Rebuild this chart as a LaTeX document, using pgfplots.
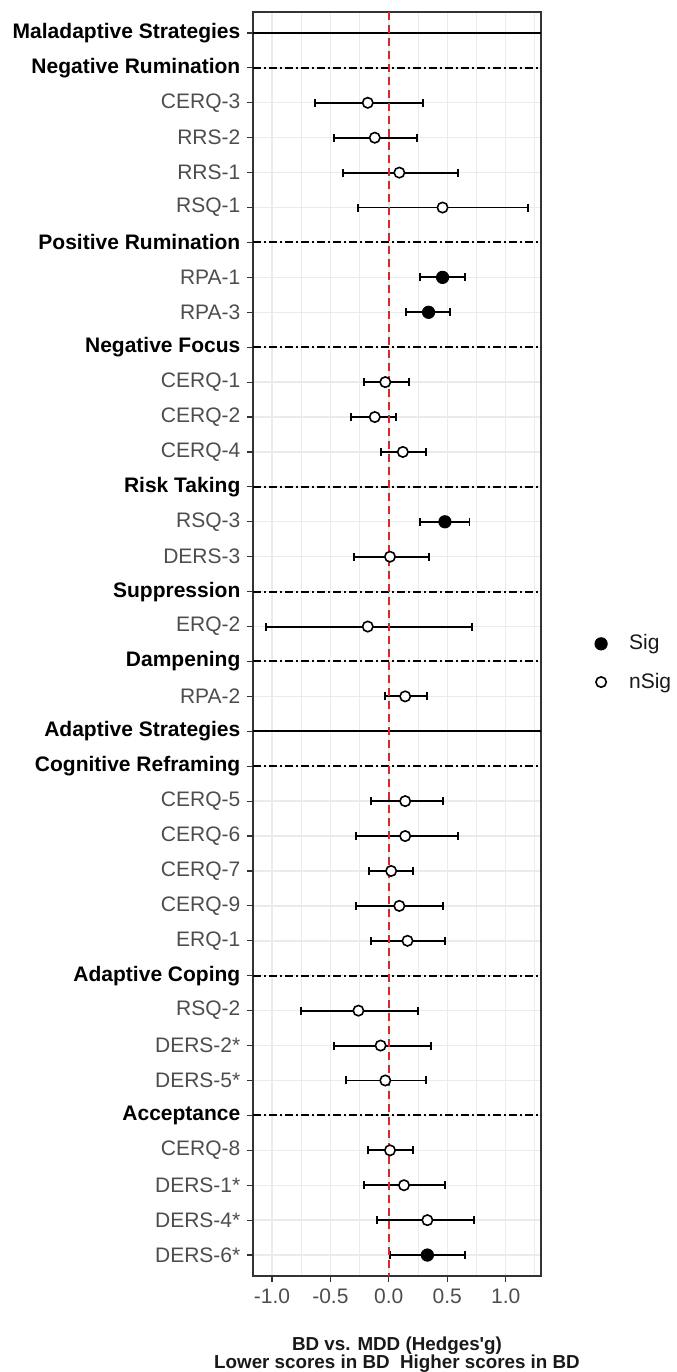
\documentclass[border=0pt]{standalone}
\usepackage{pgfplots}
\pgfplotsset{compat=1.18}
\usepackage{pgfplotstable}
\usepackage{fontspec}
\setmainfont{Liberation Sans}
\definecolor{gray30}{HTML}{4D4D4D}
\definecolor{gray20}{HTML}{333333}
\definecolor{gridc}{HTML}{EBEBEB}
\definecolor{refred}{HTML}{D42A2A}
\newcommand{\hd}[1]{\textcolor{black}{\bfseries #1}}

\pgfplotstableread{
y x lo hi
3 -0.18 -0.63 0.29
4 -0.12 -0.47 0.24
5 0.09 -0.39 0.59
6 0.46 -0.26 1.19
11 -0.03 -0.21 0.17
12 -0.12 -0.32 0.06
13 0.12 -0.07 0.32
16 0.01 -0.30 0.34
18 -0.18 -1.05 0.71
20 0.14 -0.03 0.33
23 0.14 -0.15 0.46
24 0.14 -0.28 0.59
25 0.02 -0.17 0.21
26 0.09 -0.28 0.46
27 0.16 -0.15 0.48
29 -0.26 -0.75 0.25
30 -0.07 -0.47 0.36
31 -0.03 -0.37 0.32
33 0.01 -0.18 0.21
34 0.13 -0.21 0.48
35 0.33 -0.10 0.73
}\nsigtab

\pgfplotstableread{
y x lo hi
8 0.46 0.27 0.65
9 0.34 0.15 0.52
15 0.48 0.27 0.69
36 0.33 0.01 0.65
}\sigtab

\begin{document}
\begin{tikzpicture}
\useasboundingbox (-126.5pt,-48pt) rectangle (211.5pt,638pt);
\begin{axis}[
  at={(0,0)}, anchor=south west,
  scale only axis, width=144pt, height=632pt,
  xmin=-1.162, xmax=1.302, ymin=0.4, ymax=36.6, y dir=reverse,
  xtick={-1,-0.5,0,0.5,1},
  xticklabels={-1.0,-0.5,0.0,0.5,1.0},
  minor xtick={-0.75,-0.25,0.25,0.75,1.25},
  ytick={1,...,36},
  yticklabels={\hd{Maladaptive Strategies},\hd{Negative Rumination},CERQ-3,RRS-2,RRS-1,RSQ-1,\hd{Positive Rumination},RPA-1,RPA-3,\hd{Negative Focus},CERQ-1,CERQ-2,CERQ-4,\hd{Risk Taking},RSQ-3,DERS-3,\hd{Suppression},ERQ-2,\hd{Dampening},RPA-2,\hd{Adaptive Strategies},\hd{Cognitive Reframing},CERQ-5,CERQ-6,CERQ-7,CERQ-9,ERQ-1,\hd{Adaptive Coping},RSQ-2,DERS-2*,DERS-5*,\hd{Acceptance},CERQ-8,DERS-1*,DERS-4*,DERS-6*},
  tick align=outside,
  major tick length=2.8pt, minor tick length=0pt,
  tick style={gray20, line width=0.6pt},
  xtick pos=bottom, ytick pos=left,
  ticklabel style={font=\fontsize{10.5}{12}\selectfont, text=gray30},
  xmajorgrids, xminorgrids, ymajorgrids,
  major grid style={gridc, line width=0.7pt},
  minor grid style={gridc, line width=0.45pt},
  axis line style={gray20, line width=0.7pt},
  xlabel={BD vs. MDD (Hedges\textquotesingle g)\\Lower scores in BD\ \ Higher scores in BD},
  xlabel style={align=center, font=\bfseries\fontsize{9.4}{9.2}\selectfont, text=black!90,
    at={(axis description cs:0.5,0)}, anchor=center, yshift=-39.3pt},
  legend style={draw=none, fill=none, at={(1.165,0.485)}, anchor=west,
    font=\fontsize{10.5}{12}\selectfont, row sep=6pt, text=black!90},
  legend cell align=left,
  legend image code/.code={\path[draw=none,fill=none] (-3pt,0pt) -- (12pt,0pt); \draw[#1] plot coordinates {(0pt,0pt)};},
]
% heading lines
\addplot[forget plot, black, line width=0.9pt] coordinates {(-1.162,1) (1.302,1)};
\addplot[forget plot, black, line width=0.9pt] coordinates {(-1.162,21) (1.302,21)};
\foreach \yy in {2,7,10,14,17,19,22,28,32}{
  \addplot[forget plot, black, line width=1pt, dash pattern=on 4pt off 1.5pt on 1pt off 1.5pt] coordinates {(-1.162,\yy) (1.302,\yy)};
}
% error bars
\addplot[forget plot, only marks, mark=none,
  error bars/.cd, x dir=both, x explicit,
  error bar style={line width=0.95pt, black},
  error mark options={black, line width=0.95pt, mark size=2pt, rotate=90}]
  table[x=x, y=y, x error plus expr=\thisrow{hi}-\thisrow{x}, x error minus expr=\thisrow{x}-\thisrow{lo}] {\nsigtab};
\addplot[forget plot, only marks, mark=none,
  error bars/.cd, x dir=both, x explicit,
  error bar style={line width=0.95pt, black},
  error mark options={black, line width=0.95pt, mark size=2pt, rotate=90}]
  table[x=x, y=y, x error plus expr=\thisrow{hi}-\thisrow{x}, x error minus expr=\thisrow{x}-\thisrow{lo}] {\sigtab};
% zero line
\addplot[forget plot, refred, line width=0.8pt, dash pattern=on 4pt off 2.5pt] coordinates {(0,0.4) (0,36.6)};
% points
\addplot[only marks, mark=*, mark size=3.1pt, black] table[x=x, y=y] {\sigtab};
\addlegendentry{Sig}
\addplot[only marks, mark=*, mark size=2.6pt, draw=black, fill=white, line width=0.8pt] table[x=x, y=y] {\nsigtab};
\addlegendentry{nSig}
\end{axis}
\end{tikzpicture}
\end{document}
